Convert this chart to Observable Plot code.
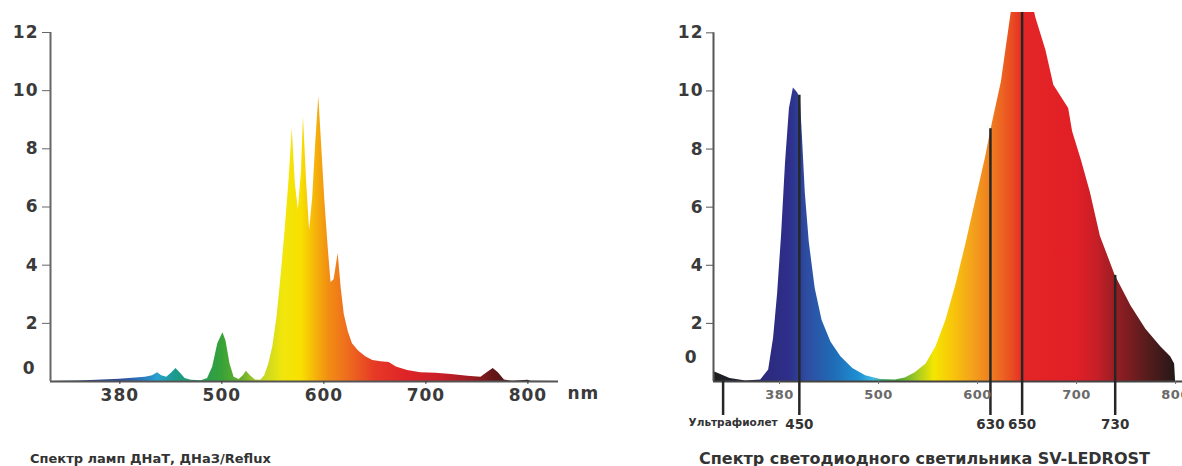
<!DOCTYPE html>
<html><head><meta charset="utf-8">
<script src="https://cdn.jsdelivr.net/npm/d3@7"></script>
<script src="https://cdn.jsdelivr.net/npm/@observablehq/plot@0.6"></script>
<style>
html,body{margin:0;padding:0;background:#fff;width:1182px;height:466px;overflow:hidden;font-family:"DejaVu Sans",sans-serif;}
#left{position:absolute;left:0;top:0;width:600px;}
#right{position:absolute;left:600px;top:0;width:600px;}
svg{max-width:none !important;}
.cap{position:absolute;font-weight:bold;color:#333;white-space:nowrap;line-height:1;}
</style></head><body>
<div id="left"></div><div id="right"></div>
<div class="cap" style="left:30px;top:452px;font-size:13px;">Спектр ламп ДНаТ, ДНаЗ/Reflux</div>
<div class="cap" style="left:699px;top:451px;font-size:16px;">Спектр светодиодного светильника SV-LEDROST</div>
<script>
// ---- data ----
const yTicks = [2, 4, 6, 8, 10, 12];
const xTickValues = [400, 500, 600, 700, 800];
const xTickLabels = ["380", "500", "600", "700", "800"];

// Left: HPS lamp spectrum (ДНаТ)
const hpsWavelength = [332,360,400,425,432,437,441,446,451,455,459,464,470,480,486,491,496,501,504,508,512,517,521,524,528,533,538,542,546,550,554,558,562,566,569,572,575,578,580,583,586,589,592,595,598,601,604,607,610,614,617,620,624,628,634,641,648,656,664,671,682,695,710,725,741,754,760,766,771,777,785,800,803,830];
const hpsValue      = [0,0.02,0.08,0.15,0.2,0.3,0.2,0.15,0.3,0.45,0.3,0.1,0.04,0.03,0.1,0.5,1.3,1.68,1.4,0.6,0.15,0.07,0.2,0.35,0.2,0.05,0.04,0.2,0.6,1.2,2.2,3.6,5.2,7.0,8.7,6.8,5.9,7.2,9.1,6.9,5.2,6.3,8.2,9.8,8.0,6.2,4.7,3.4,3.5,4.4,3.2,2.3,1.7,1.3,1.05,0.85,0.72,0.68,0.65,0.5,0.38,0.3,0.28,0.24,0.18,0.15,0.3,0.45,0.3,0.05,0.01,0.04,0.01,0];

// Right: LED luminaire spectrum (SV-LEDROST)
const ledWavelength = [333,340,350,366,381,389,394,398,402,406,410,414,418,421,423,426,430,436,443,452,462,474,487,502,517,527,537,548,558,568,578,588,598,608,615,624,634,642,648,654,659,669,677,687,692,696,705,714,724,739,755,770,785,795,799,800];
const ledValue      = [0.35,0.25,0.1,0.02,0.05,0.4,1.5,3.0,5.0,7.5,9.4,10.1,9.95,9.75,8.5,6.5,4.8,3.2,2.1,1.35,0.85,0.45,0.2,0.07,0.05,0.12,0.3,0.6,1.2,2.1,3.3,4.7,6.2,7.7,8.9,10.3,12.7,13.4,13.6,13.2,12.5,11.4,10.2,9.66,9.4,8.6,7.6,6.5,5.0,3.65,2.6,1.8,1.2,0.85,0.6,0];

const markerX     = [343, 420, 613, 645, 739];
const markerTop   = [0, 9.85, 8.7, 12.7, 3.65];
const markerLabel = ["Ультрафиолет", "450", "630", "650", "730"];

// spectrum colour stops (wavelength, colour)
const hpsSpectrum = [[332,"#283a86"],[400,"#2c4a98"],[425,"#2a7ec0"],[437,"#27a0cf"],[455,"#1b9a8c"],[480,"#2a9b55"],[500,"#36a238"],[520,"#6aaf2e"],[540,"#c2d624"],[560,"#f1e60c"],[578,"#f8e000"],[592,"#f5b40a"],[605,"#f28d14"],[625,"#ee6a1e"],[650,"#e63a26"],[680,"#df2428"],[715,"#c91f29"],[745,"#9c1b22"],[766,"#641717"],[800,"#3a1616"],[830,"#2a1414"]];
const ledSpectrum = [[333,"#1f1f1f"],[370,"#1e1e3a"],[385,"#2b2a7d"],[410,"#2e2f8a"],[430,"#2d4fa3"],[455,"#1f6cb6"],[480,"#1f8fd2"],[495,"#3fb8e2"],[507,"#3aa85a"],[520,"#4aa43a"],[540,"#a9cc22"],[556,"#f4e600"],[575,"#f8c60a"],[595,"#f4a21c"],[615,"#ef7b20"],[635,"#e94d22"],[648,"#e42526"],[700,"#e11f26"],[720,"#c81f27"],[745,"#8c1d22"],[770,"#5a1c1c"],[800,"#251818"],[810,"#251818"]];

const hps = hpsWavelength.map((w, i) => ({w, v: hpsValue[i]}));
const led = ledWavelength.map((w, i) => ({w, v: ledValue[i]}));
const markerIdx = markerX.map((_, i) => i);
const fmtX = d => xTickLabels[xTickValues.indexOf(d)];

function addGradient(svg, id, stops) {
  const xs = svg.scale("x");
  const [d0, d1] = xs.domain;
  const x1 = xs.apply(d0), x2 = xs.apply(d1);
  const g = d3.select(svg).insert("defs", ":first-child").append("linearGradient")
    .attr("id", id).attr("gradientUnits", "userSpaceOnUse")
    .attr("x1", x1).attr("x2", x2).attr("y1", 0).attr("y2", 0);
  for (const [w, c] of stops) g.append("stop").attr("offset", (xs.apply(w) - x1) / (x2 - x1)).attr("stop-color", c);
  d3.select(svg).selectAll('g[aria-label="area"] path').attr("fill", `url(#${id})`);
}

const baseStyle = {fontFamily: "DejaVu Sans", fontWeight: "bold", color: "#3a3a3a", background: "transparent", overflow: "visible", maxWidth: "none"};

const left = Plot.plot({
  width: 600, height: 440, marginLeft: 50, marginRight: 42, marginTop: 32, marginBottom: 59,
  x: {domain: [332, 830], label: null}, y: {domain: [0, 12], label: null},
  style: {...baseStyle, fontSize: "17px", letterSpacing: "1px"},
  marks: [
    Plot.areaY(hps, {x: "w", y: "v", fill: "#e33", curve: "linear"}),
    Plot.ruleY([0], {stroke: "#555", strokeWidth: 2}),
    Plot.ruleX([332], {y1: 0, y2: 12, stroke: "#666", strokeWidth: 2}),
    Plot.axisY({ticks: yTicks, tickSize: 8, tickPadding: 4, fontSize: 17, label: null, stroke: "#666"}),
    Plot.axisX({ticks: xTickValues, tickFormat: fmtX, tickSize: 3, tickPadding: 4, fontSize: 17, label: null}),
    Plot.text(["0"], {x: () => 332, y: () => 0, text: d => d, textAnchor: "end", dx: -15, dy: -13, fontSize: 17}),
    Plot.text(["nm"], {x: () => 830, y: () => 0, text: d => d, textAnchor: "start", dx: 9, dy: 12, fontSize: 17})
  ]
});
document.getElementById("left").appendChild(left);
addGradient(left, "gradL", hpsSpectrum);

const right = Plot.plot({
  width: 600, height: 440, marginLeft: 113, marginRight: 15, marginTop: 12, marginBottom: 59,
  x: {domain: [333.3, 810], label: null}, y: {domain: [0, 12.7], label: null},
  style: {...baseStyle, fontSize: "17px"},
  marks: [
    Plot.areaY(led, {x: "w", y: "v", fill: "#e22", curve: "linear", clip: true}),
    Plot.ruleY([0], {stroke: "#444", strokeWidth: 2}),
    Plot.ruleX([333.3], {y1: 0, y2: 12, stroke: "#555", strokeWidth: 2}),
    Plot.ruleX(markerIdx, {x: i => markerX[i], y1: i => markerTop[i], y2: () => -1.17, stroke: "#262626", strokeWidth: 2.5}),
    Plot.axisY({ticks: yTicks, tickSize: 7, tickPadding: 3, fontSize: 17, label: null, stroke: "#555"}),
    Plot.axisX({ticks: xTickValues, tickFormat: fmtX, tickSize: 3, tickPadding: 5, fontSize: 13, label: null, color: "#6a6a6a"}),
    Plot.text(["0"], {x: () => 333.3, y: () => 0, text: d => d, textAnchor: "end", dx: -17, dy: -24, fontSize: 17}),
    Plot.text(markerIdx.slice(1), {x: i => markerX[i], y: () => -1.5, text: i => markerLabel[i], fontSize: 13.5, fill: "#333"}),
    Plot.text([0], {x: i => markerX[i], y: () => -1.4, text: i => markerLabel[i], fontSize: 10.5, dx: 10, fill: "#333"})
  ]
});
document.getElementById("right").appendChild(right);
addGradient(right, "gradR", ledSpectrum);
d3.select(right).selectAll('g[aria-label="y-axis tick label"] text').style("letter-spacing", "1px");
d3.select(right).selectAll('g[aria-label="x-axis tick label"] text').style("letter-spacing", "0.5px");
</script>
</body></html>
